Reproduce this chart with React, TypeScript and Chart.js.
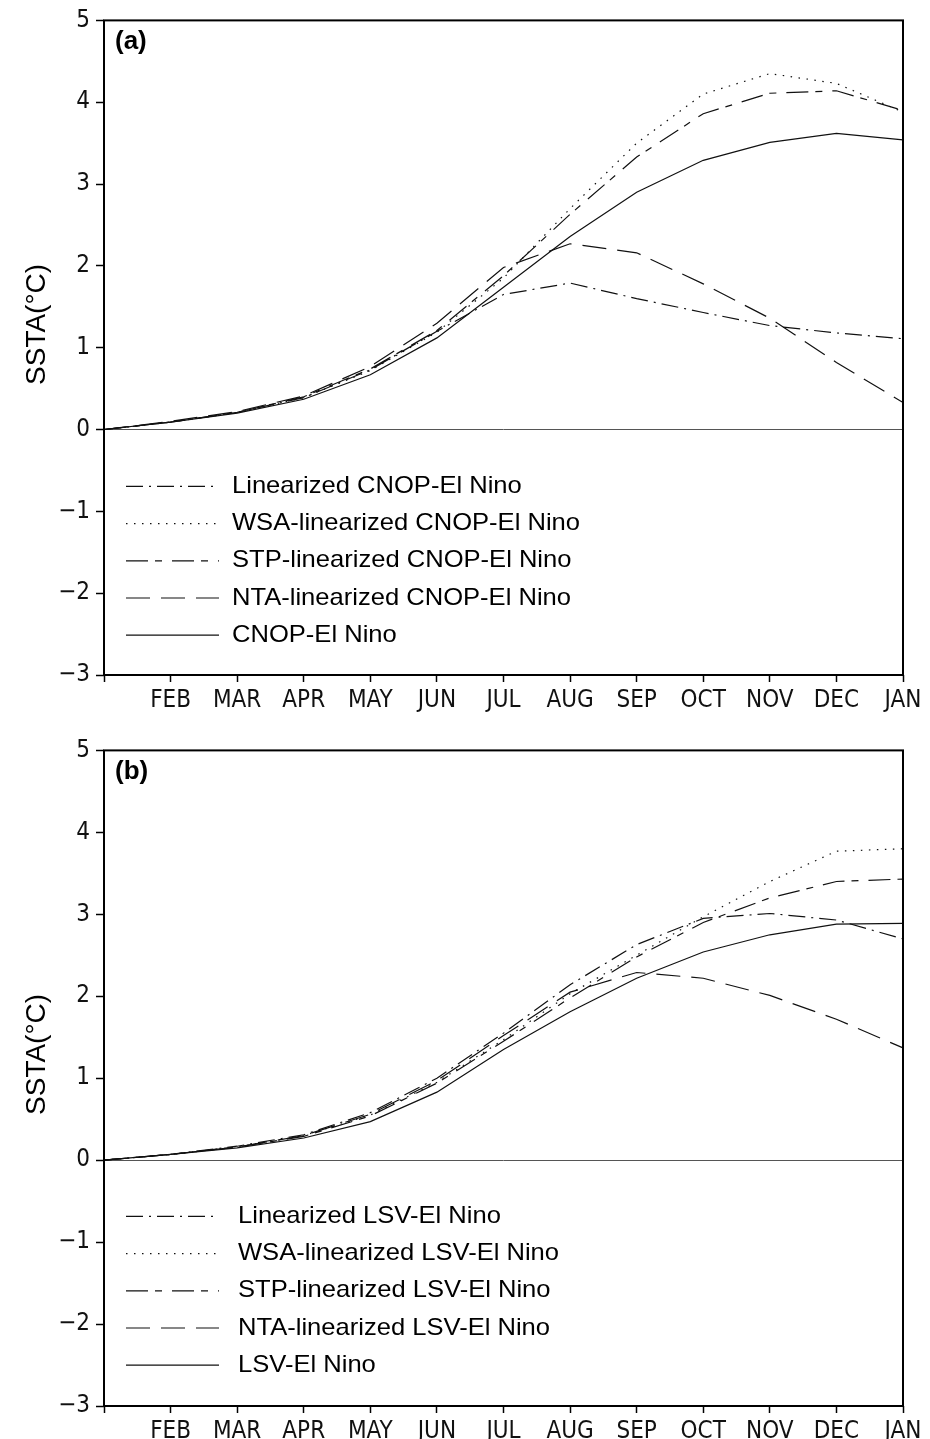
import React, { useEffect, useRef } from 'react';
import { Chart, registerables } from 'chart.js';

Chart.register(...registerables);

// ---------- data ----------
const monthLabels = ['', 'FEB', 'MAR', 'APR', 'MAY', 'JUN', 'JUL', 'AUG', 'SEP', 'OCT', 'NOV', 'DEC', 'JAN'];
const yMin = -3;
const yMax = 5;

// Panel (a)
const aLinearized = [0, 0.09, 0.21, 0.39, 0.73, 1.2, 1.65, 1.79, 1.6, 1.43, 1.27, 1.18, 1.11];
const aWSA = [0, 0.09, 0.21, 0.39, 0.72, 1.19, 1.85, 2.7, 3.5, 4.1, 4.35, 4.23, 3.88];
const aSTP = [0, 0.09, 0.21, 0.4, 0.74, 1.21, 1.88, 2.63, 3.33, 3.86, 4.11, 4.14, 3.9];
const aNTA = [0, 0.1, 0.22, 0.41, 0.77, 1.3, 1.98, 2.27, 2.16, 1.78, 1.36, 0.82, 0.33];
const aCNOP = [0, 0.09, 0.2, 0.37, 0.67, 1.12, 1.74, 2.36, 2.9, 3.29, 3.51, 3.62, 3.54];
const aNames = [
  'Linearized CNOP-El Nino',
  'WSA-linearized CNOP-El Nino',
  'STP-linearized CNOP-El Nino',
  'NTA-linearized CNOP-El Nino',
  'CNOP-El Nino',
];

// Panel (b)
const bLinearized = [0, 0.07, 0.17, 0.31, 0.58, 1.0, 1.55, 2.14, 2.63, 2.95, 3.01, 2.93, 2.7];
const bWSA = [0, 0.07, 0.16, 0.3, 0.55, 0.95, 1.47, 2.03, 2.5, 2.97, 3.4, 3.77, 3.8];
const bSTP = [0, 0.07, 0.16, 0.29, 0.54, 0.94, 1.45, 1.98, 2.48, 2.9, 3.2, 3.4, 3.43];
const bNTA = [0, 0.07, 0.16, 0.3, 0.56, 0.97, 1.52, 2.05, 2.29, 2.22, 2.01, 1.72, 1.37];
const bLSV = [0, 0.07, 0.15, 0.27, 0.47, 0.83, 1.35, 1.81, 2.22, 2.54, 2.75, 2.88, 2.89];
const bNames = [
  'Linearized LSV-El Nino',
  'WSA-linearized LSV-El Nino',
  'STP-linearized LSV-El Nino',
  'NTA-linearized LSV-El Nino',
  'LSV-El Nino',
];

// line styles (dash patterns) per series, in order
const dashPatterns = [
  [17, 6, 2, 6],
  [1.5, 6.5],
  [22, 7, 7, 10],
  [24, 11],
  [],
];

const tickFont = "'Liberation Sans Narrow', 'DejaVu Sans Condensed', 'Liberation Sans', sans-serif";
const textFont = "'Liberation Sans', Arial, sans-serif";

const decorPlugin = {
  id: 'decor',
  afterDraw(chart: any, _args: any, opts: any) {
    const { ctx, chartArea: ca } = chart;
    ctx.save();
    // frame
    ctx.setLineDash([]);
    ctx.strokeStyle = '#000';
    ctx.lineWidth = 2;
    ctx.strokeRect(ca.left, ca.top, ca.right - ca.left, ca.bottom - ca.top);

    // panel label
    ctx.fillStyle = '#000';
    ctx.font = `bold 26px ${textFont}`;
    ctx.textAlign = 'left';
    ctx.textBaseline = 'middle';
    ctx.fillText(opts.label, ca.left + 11, ca.top + 21);

    // legend
    chart.data.datasets.forEach((ds: any, i: number) => {
      const y = ca.top + opts.legendTop + i * 37.2;
      ctx.save();
      ctx.setLineDash(ds.borderDash || []);
      ctx.lineWidth = ds.borderWidth;
      ctx.strokeStyle = ds.borderColor;
      ctx.beginPath();
      ctx.moveTo(ca.left + 22, y);
      ctx.lineTo(ca.left + 115, y);
      ctx.stroke();
      ctx.restore();
      ctx.save();
      ctx.translate(opts.legendTextX, y);
      ctx.scale(1.065, 1);
      ctx.font = `24px ${textFont}`;
      ctx.fillStyle = '#000';
      ctx.textAlign = 'left';
      ctx.textBaseline = 'middle';
      ctx.fillText(ds.label, 0, 0);
      ctx.restore();
    });

    // y title
    ctx.save();
    ctx.translate(37, ca.top + 304);
    ctx.rotate(-Math.PI / 2);
    ctx.font = `28px ${textFont}`;
    ctx.fillStyle = '#000';
    ctx.textAlign = 'center';
    ctx.textBaseline = 'middle';
    ctx.fillText('SSTA(\u00B0C)', 0, 0);
    ctx.restore();

    ctx.restore();
  },
};

function makeConfig(series: number[][], names: string[], label: string, topPad: number, xHeight: number, legendTextX: number): any {
  return {
    type: 'line',
    data: {
      labels: monthLabels,
      datasets: series.map((s, i) => ({
        label: names[i],
        data: s,
        borderColor: '#111',
        borderWidth: 1.2,
        borderDash: dashPatterns[i],
        pointRadius: 0,
        fill: false,
        tension: 0,
      })),
    },
    options: {
      responsive: false,
      animation: false,
      devicePixelRatio: 1,
      layout: { padding: { top: topPad, right: 27, left: 0, bottom: 0 } },
      plugins: {
        legend: { display: false },
        tooltip: { enabled: false },
        decor: { label, legendTop: 466, legendTextX },
      },
      scales: {
        x: {
          type: 'category',
          offset: false,
          border: { display: false },
          grid: {
            drawOnChartArea: false,
            drawTicks: true,
            tickLength: 7,
            tickColor: '#000',
            tickWidth: 1.5,
            offset: false,
          },
          ticks: {
            autoSkip: false,
            maxRotation: 0,
            minRotation: 0,
            padding: 4,
            color: '#111',
            font: { family: tickFont, size: 24 },
          },
          afterFit: (scale: any) => {
            scale.height = xHeight;
          },
        },
        y: {
          min: yMin,
          max: yMax,
          border: { display: false },
          grid: {
            drawOnChartArea: true,
            drawTicks: true,
            tickLength: 8,
            tickColor: '#000',
            tickWidth: 1.5,
            lineWidth: 1,
            color: (c: any) => (c.tick && c.tick.value === 0 ? '#555' : 'rgba(0,0,0,0)'),
          },
          ticks: {
            stepSize: 1,
            padding: 6,
            color: '#111',
            font: { family: tickFont, size: 24 },
            callback: (v: any) => (v < 0 ? '\u2212' + Math.abs(v) : String(v)),
          },
          afterFit: (scale: any) => {
            scale.width = 104;
          },
        },
      },
    },
    plugins: [decorPlugin],
  };
}

function Panel({ series, names, label, height, topPad, xHeight, legendTextX }: any) {
  const ref = useRef<HTMLCanvasElement | null>(null);
  useEffect(() => {
    if (!ref.current) return;
    const chart = new Chart(ref.current, makeConfig(series, names, label, topPad, xHeight, legendTextX));
    return () => chart.destroy();
  }, []);
  return <canvas ref={ref} width={930} height={height} style={{ display: 'block', width: 930, height }} />;
}

export default function App() {
  return (
    <div style={{ position: 'absolute', left: 0, top: 0, width: 930, height: 1439, background: '#fff' }}>
      <Panel
        series={[aLinearized, aWSA, aSTP, aNTA, aCNOP]}
        names={aNames}
        label="(a)"
        height={730}
        topPad={16}
        xHeight={55}
        legendTextX={232}
      />
      <Panel
        series={[bLinearized, bWSA, bSTP, bNTA, bLSV]}
        names={bNames}
        label="(b)"
        height={709}
        topPad={17}
        xHeight={33}
        legendTextX={238}
      />
    </div>
  );
}
